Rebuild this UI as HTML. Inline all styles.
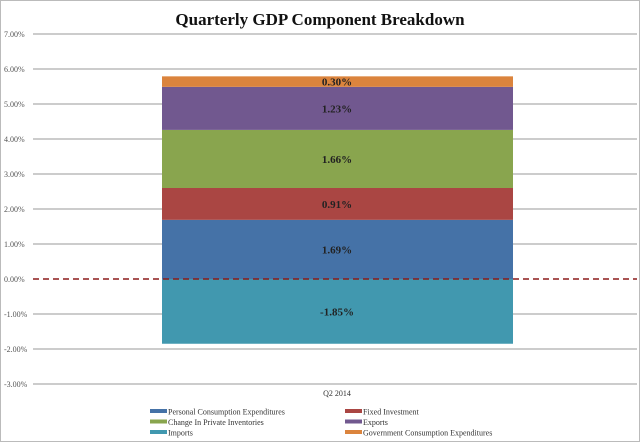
<!DOCTYPE html>
<html><head><meta charset="utf-8"><style>
body{margin:0;background:#fff}
svg{display:block;font-family:"Liberation Serif",serif}
</style></head><body>
<svg width="640" height="442">
<rect x="0.5" y="0.5" width="639" height="441" fill="#fff" stroke="#bbb"/>
<text x="320" y="25" text-anchor="middle" font-size="17" font-weight="bold" fill="#111">Quarterly GDP Component Breakdown</text>
<g id="grid"></g><g id="bars"></g><g id="legend"></g>
</svg>
<script>
const categories=["Q2 2014"];
const seriesNames=["Personal Consumption Expenditures","Fixed Investment","Change In Private Inventories","Exports","Imports","Government Consumption Expenditures"];
const seriesValues=[1.69,0.91,1.66,1.23,-1.85,0.30];
const seriesLabels=["1.69%","0.91%","1.66%","1.23%","-1.85%","0.30%"];
const tickValues=[7,6,5,4,3,2,1,0,-1,-2,-3];
const tickLabels=["7.00%","6.00%","5.00%","4.00%","3.00%","2.00%","1.00%","0.00%","-1.00%","-2.00%","-3.00%"];
const colors=["#4572a7","#aa4643","#89a54e","#71588f","#4198af","#db843d"];
const NS="http://www.w3.org/2000/svg";
const y=v=>279-35*v;
function mk(t,a,p){const e=document.createElementNS(NS,t);for(const k in a)e.setAttribute(k,a[k]);p.appendChild(e);return e;}
const g=document.getElementById('grid');
tickValues.forEach((v,i)=>{
 if(v!==0){const l=mk('line',{x1:33,x2:637,y1:y(v),y2:y(v),stroke:'#bbb','stroke-width':1.5},g);
 
 }
 const t=mk('text',{x:4,y:y(v)+3,'font-size':8,fill:'#555'},g);t.textContent=tickLabels[i];
 
 
});
const b=document.getElementById('bars');
let pos=0,neg=0;
seriesValues.forEach((v,i)=>{
 let y0,y1;
 if(v>=0){y0=pos;y1=pos+v;pos=y1;}else{y0=neg+v;y1=neg;neg=y0;}
 const r=mk('rect',{x:162,width:351,y:y(y1),height:y(y0)-y(y1),fill:colors[i]},b);
 
 
 const t=mk('text',{x:337,y:(y(y0)+y(y1))/2+4,'text-anchor':'middle','font-size':11,'font-weight':'bold',fill:'#222'},b);
 t.textContent=seriesLabels[i];
 
 
});
const z=mk('line',{x1:33,x2:637,y1:y(0),y2:y(0),stroke:'#8b1a1a','stroke-width':1.5,'stroke-dasharray':'6,4'},b);


const xl=mk('text',{x:337,y:396,'text-anchor':'middle','font-size':8,fill:'#333'},b);
xl.textContent=categories[0];


const lg=document.getElementById('legend');
seriesNames.forEach((n,i)=>{
 const col=i%2,row=Math.floor(i/2);
 const x=col?345:150,yy=412+row*10.5;
 const s=mk('rect',{x:x,y:yy-3,width:17,height:4,fill:colors[i]},lg);
 
 
 const t=mk('text',{x:x+18,y:yy+2.5,'font-size':8,fill:'#333'},lg);t.textContent=n;
 
 
});
</script>
</body></html>
